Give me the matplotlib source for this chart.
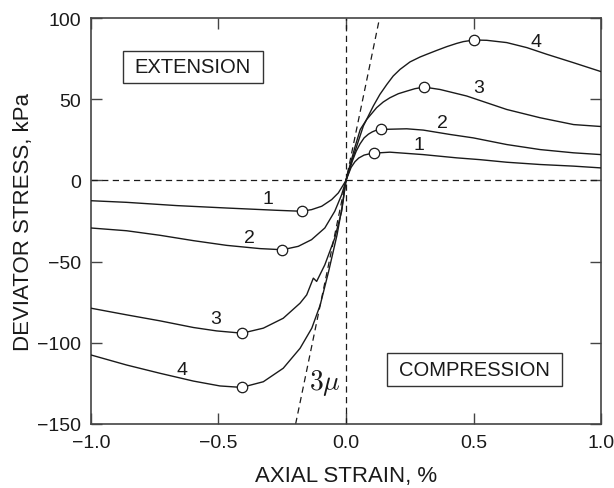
import matplotlib
matplotlib.use("Agg")
import matplotlib.pyplot as plt
from matplotlib.patches import Rectangle

plt.rcParams['font.family'] = ['Liberation Sans', 'DejaVu Sans']
plt.rcParams['mathtext.fontset'] = 'cm'

# ---- data (axial strain %, deviator stress kPa) ----
# Compression branches
c1_x = [0.0, 0.01, 0.02, 0.035, 0.05, 0.071, 0.09, 0.11, 0.172, 0.303, 0.434, 0.525, 0.63, 0.761, 0.892, 1.0]
c1_y = [0.0, 4.0, 8.0, 11.5, 13.8, 15.6, 16.3, 16.8, 17.4, 15.9, 13.9, 12.8, 11.2, 9.8, 8.8, 7.7]
c2_x = [0.0, 0.015, 0.025, 0.04, 0.055, 0.071, 0.088, 0.103, 0.12, 0.139, 0.238, 0.303, 0.408, 0.499,
        0.63, 0.761, 0.892, 1.0]
c2_y = [0.0, 7.0, 12.0, 18.0, 22.5, 26.2, 28.5, 29.9, 31.0, 31.4, 31.8, 31.0, 28.3, 26.2,
        22.1, 19.0, 17.0, 15.9]
c3_x = [0.0, 0.016, 0.035, 0.056, 0.081, 0.12, 0.146, 0.172, 0.205, 0.238, 0.27, 0.306, 0.369,
        0.473, 0.63, 0.761, 0.892, 1.0]
c3_y = [0.0, 9.5, 20.5, 31.4, 37.5, 44.8, 48.3, 50.9, 53.4, 55.0, 56.5, 57.5, 56.0,
        52.0, 43.7, 38.6, 34.4, 33.2]
c4_x = [0.0, 0.016, 0.042, 0.068, 0.107, 0.133, 0.16, 0.185, 0.212, 0.251, 0.29, 0.317, 0.356,
        0.395, 0.434, 0.46, 0.502, 0.552, 0.63, 0.709, 0.787, 0.892, 1.0]
c4_y = [0.0, 8.8, 21.1, 33.5, 45.8, 53.0, 59.1, 64.3, 68.4, 73.0, 76.0, 77.7, 80.1,
        82.4, 84.4, 85.5, 86.5, 86.3, 84.9, 81.8, 77.7, 72.5, 67.0]

# Extension branches
e1_x = [0.0, -0.01, -0.03, -0.056, -0.095, -0.135, -0.174, -0.272, -0.468, -0.664, -0.86, -1.0]
e1_y = [0.0, -2.6, -7.7, -11.8, -15.9, -18.0, -19.0, -18.4, -17.0, -15.5, -13.5, -12.5]
e2_x = [0.0, -0.017, -0.044, -0.083, -0.135, -0.187, -0.249, -0.337, -0.468, -0.598, -0.729, -0.86, -1.0]
e2_y = [0.0, -8.8, -19.0, -29.3, -36.5, -40.6, -42.7, -42.0, -40.0, -37.1, -33.8, -31.0, -29.3]
e3_x = [0.0, -0.017, -0.044, -0.083, -0.115, -0.128, -0.154, -0.18, -0.246, -0.324, -0.407,
        -0.507, -0.598, -0.729, -0.86, -1.0]
e3_y = [0.0, -19.0, -35.5, -52.0, -62.2, -60.2, -70.5, -75.6, -84.9, -91.0, -94.1,
        -92.7, -90.6, -86.5, -82.8, -78.7]
e4_x = [0.0, -0.016, -0.035, -0.068, -0.101, -0.134, -0.18, -0.246, -0.324, -0.409,
        -0.494, -0.598, -0.729, -0.86, -1.0]
e4_y = [0.0, -17.0, -33.5, -56.0, -76.7, -91.0, -103.4, -115.7, -124.0, -127.5,
        -126.6, -123.6, -118.8, -113.7, -107.5]

# Peak (failure) points
peak_x = [0.11, 0.139, 0.306, 0.502, -0.174, -0.249, -0.407, -0.409]
peak_y = [16.8, 31.4, 57.5, 86.5, -19.0, -42.7, -94.1, -127.5]

# Curve labels
lab_text = ['1', '2', '3', '4', '1', '2', '3', '4']
lab_x = [0.284, 0.379, 0.52, 0.745, -0.305, -0.379, -0.51, -0.644]
lab_y = [22.1, 35.9, 57.1, 85.3, -11.2, -35.0, -85.3, -116.2]

slope_3mu = 760.0  # kPa per % (initial slope line)

xticks = [-1.0, -0.5, 0.0, 0.5, 1.0]
xtick_labels = ['\u22121.0', '\u22120.5', '0.0', '0.5', '1.0']
yticks = [-150, -100, -50, 0, 50, 100]
ytick_labels = ['\u2212150', '\u2212100', '\u221250', '0', '50', '100']

# ---- figure ----
fig = plt.figure(figsize=(6.14, 4.89), dpi=100)
ax = fig.add_axes([0.148, 0.131, 0.831, 0.830])

lc = '#1a1a1a'
for xs, ys in [(c1_x, c1_y), (c2_x, c2_y), (c3_x, c3_y), (c4_x, c4_y),
               (e1_x, e1_y), (e2_x, e2_y), (e3_x, e3_y), (e4_x, e4_y)]:
    ax.plot(xs, ys, color=lc, lw=1.0, solid_joinstyle='round', zorder=3)

ax.plot(peak_x, peak_y, ls='none', marker='o', ms=7.5, mfc='white', mec=lc, mew=0.9, zorder=4)

# dashed reference lines
ax.axhline(0, color=lc, lw=0.9, ls=(0, (5, 3.5)), zorder=2)
ax.axvline(0, color=lc, lw=0.9, ls=(0, (5, 3.5)), zorder=2)
ax.plot([-150 / slope_3mu, 100 / slope_3mu], [-150, 100], color=lc, lw=0.9,
        ls=(0, (5, 3.5)), zorder=2)

for t, x, y in zip(lab_text, lab_x, lab_y):
    ax.text(x, y, t, fontsize=14, ha='center', va='center', color=lc)

ax.text(-0.082, -124, r'$3\mu$', fontsize=20, ha='center', va='center', color=lc)

# labelled boxes
ax.add_patch(Rectangle((-0.876, 60.2), 0.552, 19.6, fc='white', ec='#333333', lw=1.0, zorder=5))
ax.text(-0.6, 69.9, 'EXTENSION', fontsize=14.5, ha='center', va='center', color=lc, zorder=6)
ax.add_patch(Rectangle((0.162, -126.4), 0.684, 19.9, fc='white', ec='#333333', lw=1.0, zorder=5))
ax.text(0.504, -116.4, 'COMPRESSION', fontsize=14.5, ha='center', va='center', color=lc, zorder=6)

ax.set_xlim(-1.0, 1.0)
ax.set_ylim(-150, 100)
ax.set_xticks(xticks)
ax.set_xticklabels(xtick_labels)
ax.set_yticks(yticks)
ax.set_yticklabels(ytick_labels)
ax.tick_params(direction='in', length=8, width=1.0, top=True, right=True,
               labelsize=14, colors='#444444', labelcolor=lc)
ax.tick_params(axis='x', pad=7)
ax.tick_params(axis='y', pad=7)
for sp in ax.spines.values():
    sp.set_linewidth(1.2)
    sp.set_color('#444444')

ax.set_xlabel('AXIAL STRAIN, %', fontsize=16, color=lc)
ax.set_ylabel('DEVIATOR STRESS, kPa', fontsize=16, color=lc)
ax.xaxis.set_label_coords(0.5, -0.101)
ax.yaxis.set_label_coords(-0.112, 0.5)

fig.savefig('out.png', dpi=100)
